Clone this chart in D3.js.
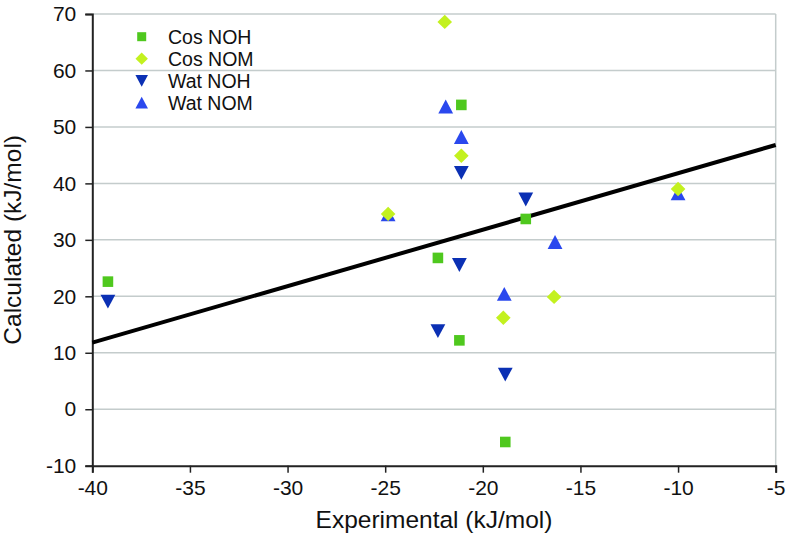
<!DOCTYPE html>
<html>
<head>
<meta charset="utf-8">
<script src="https://cdn.jsdelivr.net/npm/d3@7"></script>
<style>
  html, body { margin: 0; padding: 0; background: #fff; }
  svg { display: block; font-family: "Liberation Sans", Arial, sans-serif; }
</style>
</head>
<body>
<svg id="chart" width="786" height="543"></svg>
<script>
// ---- Data ----
const seriesNames = ["Cos NOH", "Cos NOM", "Wat NOH", "Wat NOM"];
const cosNOH = [[-39.2, 22.6], [-22.3, 26.8], [-21.1, 53.9], [-21.2, 12.2], [-18.85, -5.8], [-17.8, 33.7]];
const cosNOM = [[-21.95, 68.6], [-21.1, 44.9], [-24.85, 34.6], [-18.95, 16.2], [-16.35, 19.9], [-10.0, 39.0]];
const watNOH = [[-39.2, 19.1], [-21.1, 41.9], [-17.8, 37.2], [-21.2, 25.6], [-22.3, 13.9], [-18.85, 6.2]];
const watNOM = [[-21.9, 53.6], [-21.1, 48.2], [-16.3, 29.6], [-10.0, 38.2], [-24.85, 34.5], [-18.9, 20.4]];
const trendLine = [[-40, 11.8], [-5, 46.8]];
const xTicks = [-40, -35, -30, -25, -20, -15, -10, -5];
const yTicks = [-10, 0, 10, 20, 30, 40, 50, 60, 70];
const xTitle = "Experimental (kJ/mol)";
const yTitle = "Calculated (kJ/mol)";

// ---- Layout ----
const svg = d3.select("#chart");
const pL = 92.3, pR = 775.7, pT = 14, pB = 465.7;
const x = d3.scaleLinear().domain([-40, -5]).range([pL, pR]);
const y = d3.scaleLinear().domain([-10, 70]).range([pB, pT]);

const colors = { "Cos NOH": "#4fc81e", "Cos NOM": "#c3f11f", "Wat NOH": "#0b30b4", "Wat NOM": "#2a48ee" };
const shapes = {
  "Cos NOH": "M-5.3,-5.3H5.3V5.3H-5.3Z",
  "Cos NOM": "M0,-7.2L7.3,0L0,7.2L-7.3,0Z",
  "Wat NOH": "M-7.4,-6.6H7.4L0,7.2Z",
  "Wat NOM": "M-7.4,6.8H7.4L0,-7.0Z"
};
const dataBy = { "Cos NOH": cosNOH, "Cos NOM": cosNOM, "Wat NOH": watNOH, "Wat NOM": watNOM };

// Gridlines
svg.append("g").selectAll("line").data(yTicks.filter(d => d !== -10)).join("line")
  .attr("x1", pL).attr("x2", pR)
  .attr("y1", d => y(d)).attr("y2", d => y(d))
  .attr("stroke", "#c4cccc").attr("stroke-width", 1.5);
// Right border
svg.append("line").attr("x1", pR).attr("x2", pR).attr("y1", pT).attr("y2", pB)
  .attr("stroke", "#c4cccc").attr("stroke-width", 1.5);

// Axes
const fmt = d => String(d);
const xAxis = d3.axisBottom(x).tickValues(xTicks).tickSize(7).tickPadding(6).tickFormat(fmt);
const yAxis = d3.axisLeft(y).tickValues(yTicks).tickSize(7).tickPadding(9).tickFormat(fmt);
const gx = svg.append("g").attr("transform", `translate(0,${pB})`).call(xAxis);
const gy = svg.append("g").attr("transform", `translate(${pL},0)`).call(yAxis);
[gx, gy].forEach(g => {
  g.select(".domain").attr("stroke", "#222").attr("stroke-width", 2);
  g.selectAll(".tick line").attr("stroke", "#222").attr("stroke-width", 1.5);
  g.selectAll(".tick text").attr("fill", "#111").style("font-size", "21px")
    .style("font-family", "'Liberation Sans', Arial, sans-serif");
});
gx.selectAll(".tick text").attr("dy", "0.8em");

// Trend line
svg.append("path").datum(trendLine)
  .attr("d", d3.line().x(d => x(d[0])).y(d => y(d[1])))
  .attr("fill", "none").attr("stroke", "#000").attr("stroke-width", 4);

// Markers (draw Wat series first so Cos markers sit on top)
["Wat NOM", "Wat NOH", "Cos NOM", "Cos NOH"].forEach(name => {
  svg.append("g").selectAll("path").data(dataBy[name]).join("path")
    .attr("d", shapes[name])
    .attr("transform", d => `translate(${x(d[0])},${y(d[1])})`)
    .attr("fill", colors[name]);
});

// Legend
const legend = svg.append("g");
seriesNames.forEach((name, i) => {
  const cy = 36.7 + i * 22;
  legend.append("path").attr("d", shapes[name]).attr("fill", colors[name])
    .attr("transform", `translate(141.7,${cy}) scale(0.85)`);
  legend.append("text").attr("x", 168).attr("y", cy + 6.8)
    .attr("fill", "#111").style("font-size", "19.5px").text(name);
});

// Axis titles
svg.append("text").attr("x", (pL + pR) / 2).attr("y", 528)
  .attr("text-anchor", "middle").attr("fill", "#111").style("font-size", "24.5px").text(xTitle);
svg.append("text").attr("transform", `translate(20.5,${(pT + pB) / 2}) rotate(-90)`)
  .attr("text-anchor", "middle").attr("fill", "#111").style("font-size", "24.5px").text(yTitle);
</script>
</body>
</html>
